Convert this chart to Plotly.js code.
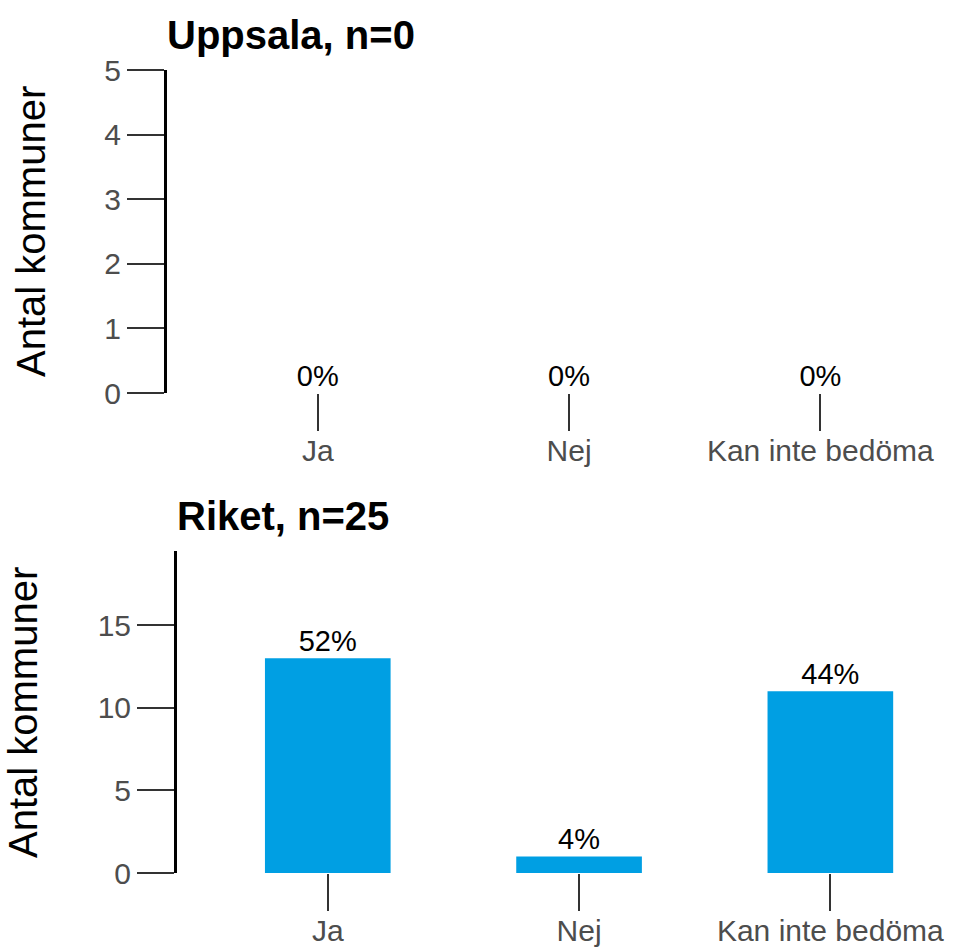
<!DOCTYPE html>
<html>
<head>
<meta charset="utf-8">
<script src="https://cdn.plot.ly/plotly-3.0.1.min.js"></script>
<style>html,body{margin:0;padding:0;background:#fff;}#chart{width:956px;height:947px;}</style>
</head>
<body>
<div id="chart"></div>
<script>
// Data
var categories = ["Ja", "Nej", "Kan inte bedöma"];
var uppsalaValues = [0, 0, 0];
var uppsalaPct = ["0%", "0%", "0%"];
var riketValues = [13, 1, 11];
var riketPct = ["52%", "4%", "44%"];
var uppsalaTitle = "Uppsala, n=0";
var riketTitle = "Riket, n=25";
var yTitle = "Antal kommuner";

var W = 956, H = 947;
var FONT = "Liberation Sans, Arial, sans-serif";
var barColor = "#009FE3";

function px(x) { return x / W; }
function py(y) { return 1 - y / H; }

var traces = [
  {type: "bar", x: categories, y: uppsalaValues, xaxis: "x", yaxis: "y",
   marker: {color: barColor}, width: 0.5, hoverinfo: "skip"},
  {type: "scatter", mode: "text", x: categories, y: uppsalaValues, text: uppsalaPct,
   textposition: "top center", textfont: {family: FONT, size: 29, color: "#000"},
   xaxis: "x", yaxis: "y", hoverinfo: "skip", cliponaxis: false},
  {type: "bar", x: categories, y: riketValues, xaxis: "x2", yaxis: "y2",
   marker: {color: barColor}, width: 0.5, hoverinfo: "skip"},
  {type: "scatter", mode: "text", x: categories, y: riketValues, text: riketPct,
   textposition: "top center", textfont: {family: FONT, size: 29, color: "#000"},
   xaxis: "x2", yaxis: "y2", hoverinfo: "skip", cliponaxis: false}
];

var xCommon = {
  type: "category", range: [-0.6, 2.5], showline: false, showgrid: false, zeroline: false,
  ticks: "outside", ticklen: 37, tickwidth: 2, tickcolor: "#333333",
  ticklabelstandoff: -6,
  tickfont: {family: FONT, size: 30, color: "#4D4D4D"}, fixedrange: true
};
var yCommon = {
  showline: true, linewidth: 3, linecolor: "#000", showgrid: false, zeroline: false,
  ticks: "outside", ticklen: 37, tickwidth: 2, tickcolor: "#333333",
  tickfont: {family: FONT, size: 30, color: "#4D4D4D"}, fixedrange: true
};

var layout = {
  width: W, height: H,
  margin: {l: 0, r: 0, t: 0, b: 0},
  paper_bgcolor: "#fff", plot_bgcolor: "#fff",
  showlegend: false,
  font: {family: FONT},
  xaxis: Object.assign({}, xCommon, {domain: [px(167), px(946)], anchor: "y"}),
  yaxis: Object.assign({}, yCommon, {domain: [py(393), py(70)], range: [0, 5], dtick: 1, anchor: "x"}),
  xaxis2: Object.assign({}, xCommon, {domain: [px(177), px(956)], anchor: "y2"}),
  yaxis2: Object.assign({}, yCommon, {domain: [py(873), py(551)], range: [0, 19.5], dtick: 5, anchor: "x2"}),
  annotations: [
    {text: "<b>" + uppsalaTitle + "</b>", xref: "paper", yref: "paper", x: px(165), y: py(35),
     xanchor: "left", yanchor: "middle", showarrow: false, font: {family: FONT, size: 40, color: "#000"}},
    {text: "<b>" + riketTitle + "</b>", xref: "paper", yref: "paper", x: px(175), y: py(516),
     xanchor: "left", yanchor: "middle", showarrow: false, font: {family: FONT, size: 40, color: "#000"}},
    {text: yTitle, xref: "paper", yref: "paper", x: px(31), y: py(232), textangle: -90,
     xanchor: "center", yanchor: "middle", showarrow: false, font: {family: FONT, size: 40, color: "#000"}},
    {text: yTitle, xref: "paper", yref: "paper", x: px(23), y: py(713), textangle: -90,
     xanchor: "center", yanchor: "middle", showarrow: false, font: {family: FONT, size: 40, color: "#000"}}
  ]
};

Plotly.newPlot("chart", traces, layout, {displayModeBar: false, staticPlot: true});
</script>
</body>
</html>
